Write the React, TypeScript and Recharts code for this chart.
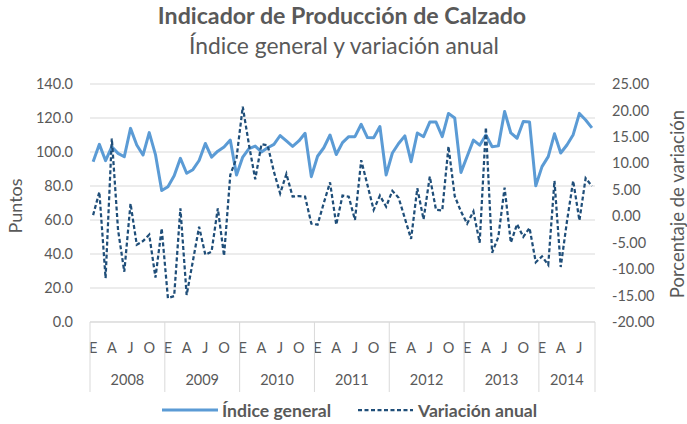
import React from 'react';
import { ComposedChart, Line, XAxis, YAxis, CartesianGrid } from 'recharts';

const years = [2008, 2009, 2010, 2011, 2012, 2013, 2014];
const monthLetters = ['E', 'F', 'M', 'A', 'M', 'J', 'J', 'A', 'S', 'O', 'N', 'D'];
const shownMonthIdx = [0, 3, 6, 9];
const monthsInLastYear = 9;

const indiceGeneral = [
  94.3, 104.5, 94.9, 103.1, 99.2, 97.2, 113.9, 104.1, 98.2, 111.4, 98.5, 77.3,
  79.6, 86.0, 96.3, 87.5, 89.6, 95.0, 105.0, 97.0, 100.5, 103.0, 107.0, 86.5,
  97.0, 102.0, 103.5, 100.0, 102.5, 104.5, 109.7, 106.5, 103.3, 106.5, 111.0, 85.5,
  97.5, 102.5, 110.0, 98.5, 105.5, 109.0, 109.0, 116.3, 108.5, 108.4, 115.0, 86.5,
  99.4, 105.0, 109.5, 94.3, 111.2, 109.0, 117.6, 117.6, 109.0, 122.7, 120.0, 88.0,
  97.5, 107.0, 104.0, 110.0, 103.1, 103.6, 123.8, 111.2, 108.1, 118.0, 117.6, 80.1,
  91.4, 97.3, 110.7, 99.4, 104.1, 110.2, 122.7, 118.8, 114.2,
];

const variacionAnual = [
  0.2, 4.6, -11.7, 14.7, -2.6, -10.5, 2.4, -5.4, -4.7, -3.5, -11.6, -2.3,
  -15.5, -15.1, 1.5, -14.9, -8.5, -2.0, -7.3, -6.7, 1.5, -7.5, 7.8, 11.0,
  20.7, 13.5, 7.0, 13.6, 13.4, 8.4, 4.3, 8.0, 3.7, 3.8, 3.7, -1.4,
  -1.6, 2.5, 6.4, -1.6, 3.9, 3.7, -0.7, 10.6, 5.9, 1.2, 3.9, 1.8,
  4.8, 3.5, -0.4, -4.3, 5.3, -0.6, 7.5, 1.2, 1.1, 13.2, 3.8, 0.9,
  -1.4, 0.9, -5.0, 16.8, -6.9, -3.9, 5.4, -5.0, -1.5, -3.9, -2.2, -8.7,
  -7.6, -9.2, 6.7, -9.6, -1.0, 6.7, -0.8, 7.2, 5.7,
];

const leftTicks = [0, 20, 40, 60, 80, 100, 120, 140];
const rightTicks = [-20, -15, -10, -5, 0, 5, 10, 15, 20, 25];

const data = indiceGeneral.map((v, i) => ({
  idx: i,
  indice: v,
  variacion: variacionAnual[i],
}));

const FONT = 'Lato, "Open Sans", sans-serif';
const TXT = '#595959';
const GRID = '#d9d9d9';
const BLUE = '#5B9BD5';
const NAVY = '#1F4E79';

const W = 687;
const H = 424;
const PLOT_LEFT = 90;
const PLOT_RIGHT = 595;

const XTick = (props: any) => {
  const { x, y, payload } = props;
  const i: number = payload.value;
  const half: number =
    typeof payload.offset === 'number' && payload.offset > 0
      ? payload.offset
      : (PLOT_RIGHT - PLOT_LEFT) / data.length / 2;
  const m = i % 12;
  const yi = Math.floor(i / 12);
  const count = yi === years.length - 1 ? monthsInLastYear : 12;
  const els: any[] = [];
  if (shownMonthIdx.includes(m)) {
    els.push(
      <text key="m" x={x} y={y + 25} textAnchor="middle" dominantBaseline="central" fill={TXT} fontSize={14.5} fontFamily={FONT}>
        {monthLetters[m]}
      </text>
    );
  }
  let yx: number | null = null;
  if (count % 2 === 0 && m === count / 2 - 1) yx = x + half;
  if (count % 2 === 1 && m === (count - 1) / 2) yx = x;
  if (yx !== null) {
    els.push(
      <text key="y" x={yx} y={y + 57} textAnchor="middle" dominantBaseline="central" fill={TXT} fontSize={14.5} fontFamily={FONT}>
        {years[yi]}
      </text>
    );
  }
  if (m === 0) {
    els.push(<line key="l" x1={x - half} x2={x - half} y1={y} y2={y + 70} stroke={GRID} strokeWidth={1} />);
  }
  if (i === data.length - 1) {
    els.push(<line key="r" x1={x + half} x2={x + half} y1={y} y2={y + 70} stroke={GRID} strokeWidth={1} />);
  }
  return <g>{els}</g>;
};

export default function App() {
  return (
    <div style={{ position: 'absolute', left: 0, top: 0, width: W, height: H, background: '#fff' }}>
      <ComposedChart width={W} height={H} data={data} margin={{ top: 84, right: 0, bottom: 72, left: 0 }}>
        <CartesianGrid vertical={false} stroke={GRID} yAxisId="left" />
        <XAxis
          dataKey="idx"
          type="category"
          scale="band"
          interval={0}
          height={30}
          tickLine={false}
          tickSize={0}
          tickMargin={0}
          axisLine={{ stroke: GRID }}
          tick={<XTick />}
        />
        <YAxis
          yAxisId="left"
          orientation="left"
          width={90}
          domain={[0, 140]}
          ticks={leftTicks}
          tickFormatter={(v: number) => v.toFixed(1)}
          axisLine={false}
          tickLine={false}
          tickSize={0}
          tickMargin={17}
          tick={{ fill: TXT, fontSize: 14.5, fontFamily: FONT }}
        />
        <YAxis
          yAxisId="right"
          orientation="right"
          width={92}
          domain={[-20, 25]}
          ticks={rightTicks}
          tickFormatter={(v: number) => v.toFixed(2)}
          axisLine={false}
          tickLine={false}
          tickSize={0}
          tickMargin={17}
          tick={{ fill: TXT, fontSize: 14.5, fontFamily: FONT, textAnchor: 'start' }}
        />
        <Line
          yAxisId="left"
          dataKey="indice"
          stroke={BLUE}
          strokeWidth={3}
          dot={false}
          activeDot={false}
          strokeLinejoin="round"
          isAnimationActive={false}
        />
        <Line
          yAxisId="right"
          dataKey="variacion"
          stroke={NAVY}
          strokeWidth={2.25}
          strokeDasharray="4 2.5"
          dot={false}
          activeDot={false}
          isAnimationActive={false}
        />
      </ComposedChart>
      <svg width={W} height={H} style={{ position: 'absolute', left: 0, top: 0, pointerEvents: 'none' }}>
        <text x={342} y={15} textAnchor="middle" dominantBaseline="central" fill={TXT} fontSize={23.2} fontWeight={700} fontFamily={FONT}>
          Indicador de Producción de Calzado
        </text>
        <text x={344} y={45} textAnchor="middle" dominantBaseline="central" fill={TXT} fontSize={22.8} fontFamily={FONT}>
          Índice general y variación anual
        </text>
        <text x={15} y={206} transform="rotate(-90 15 206)" textAnchor="middle" dominantBaseline="central" fill={TXT} fontSize={18} fontFamily={FONT}>
          Puntos
        </text>
        <text x={677} y={204} transform="rotate(-90 677 204)" textAnchor="middle" dominantBaseline="central" fill={TXT} fontSize={18.5} fontFamily={FONT}>
          Porcentaje de variación
        </text>
        <line x1={162} x2={218} y1={410} y2={410} stroke={BLUE} strokeWidth={3} />
        <text x={222} y={410} dominantBaseline="central" fill={TXT} fontSize={17.6} fontWeight={700} fontFamily={FONT}>
          Índice general
        </text>
        <line x1={358} x2={413} y1={410} y2={410} stroke={NAVY} strokeWidth={2.25} strokeDasharray="4 2.5" />
        <text x={418} y={410} dominantBaseline="central" fill={TXT} fontSize={17.6} fontWeight={700} fontFamily={FONT}>
          Variación anual
        </text>
      </svg>
    </div>
  );
}
